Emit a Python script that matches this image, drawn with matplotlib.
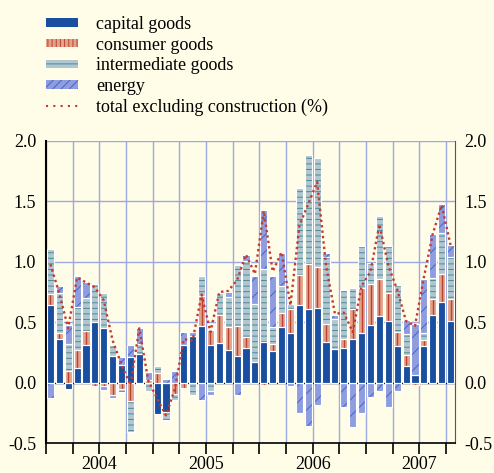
import matplotlib
matplotlib.use('Agg')
import matplotlib.pyplot as plt
from matplotlib.patches import Patch
from matplotlib.lines import Line2D
import numpy as np

plt.rcParams['font.family'] = ['Liberation Serif', 'DejaVu Serif']
plt.rcParams['font.size'] = 13
plt.rcParams['axes.unicode_minus'] = False
plt.rcParams['hatch.linewidth'] = 0.7

# monthly contributions, Jan 2004 - Oct 2007 (percentage points)
years = ['2004', '2005', '2006', '2007']
capital = [0.64, 0.36, -0.05, 0.12, 0.31, 0.50, 0.45, 0.22, 0.15, 0.21, 0.24, 0.00,
           -0.26, -0.24, 0.00, 0.31, 0.39, 0.47, 0.31, 0.33, 0.27, 0.22, 0.29, 0.17,
           0.34, 0.26, 0.46, 0.41, 0.64, 0.61, 0.62, 0.34, 0.28, 0.29, 0.36, 0.41,
           0.48, 0.55, 0.51, 0.30, 0.14, 0.06, 0.30, 0.56, 0.67, 0.51]
consumer = [0.09, 0.05, 0.10, 0.15, 0.12, -0.03, -0.03, -0.10, -0.05, -0.15, -0.01, 0.02,
            0.08, 0.00, -0.09, -0.04, 0.00, 0.25, 0.13, 0.23, 0.19, 0.25, 0.09, 0.00,
            -0.02, 0.06, 0.12, 0.20, 0.25, 0.37, 0.34, 0.15, 0.00, 0.07, 0.25, 0.37,
            0.34, 0.31, 0.23, 0.12, 0.09, -0.02, 0.05, 0.13, 0.23, 0.18]
intermediate = [0.38, 0.33, 0.22, 0.36, 0.27, 0.32, 0.29, 0.09, -0.03, -0.26, 0.08, -0.07,
                0.06, -0.07, -0.05, 0.00, -0.10, 0.16, -0.07, 0.18, 0.25, 0.50, 0.63, 0.48,
                0.60, 0.14, 0.22, 0.04, 0.72, 0.90, 0.90, 0.55, 0.25, 0.41, 0.17, 0.35,
                0.17, 0.52, 0.39, 0.39, 0.17, 0.00, 0.06, 0.18, 0.34, 0.35]
energy = [-0.13, 0.06, 0.16, 0.25, 0.13, 0.00, -0.03, -0.03, 0.06, 0.10, 0.13, 0.07,
          0.00, 0.03, 0.10, 0.11, 0.03, -0.14, -0.03, 0.00, 0.04, -0.10, 0.05, 0.23,
          0.49, 0.42, 0.27, -0.03, -0.25, -0.36, -0.18, 0.03, 0.03, -0.20, -0.37, -0.25,
          -0.12, -0.07, -0.20, -0.07, 0.12, 0.43, 0.45, 0.36, 0.24, 0.10]
total = [0.98, 0.74, 0.45, 0.87, 0.83, 0.79, 0.68, 0.35, 0.15, -0.02, 0.45, 0.02,
         -0.13, -0.27, -0.05, 0.36, 0.35, 0.73, 0.42, 0.75, 0.76, 0.85, 1.06, 0.90,
         1.42, 0.92, 1.08, 0.64, 1.30, 1.48, 1.66, 0.97, 0.57, 0.58, 0.42, 0.80,
         0.92, 1.31, 0.97, 0.77, 0.51, 0.47, 0.87, 1.23, 1.47, 1.14]
y_ticks = [-0.5, 0.0, 0.5, 1.0, 1.5, 2.0]
y_labels = ['-0.5', '0.0', '0.5', '1.0', '1.5', '2.0']
labels = ['capital goods', 'consumer goods', 'intermediate goods', 'energy',
          'total excluding construction (%)']

bg = '#fffde8'
grid_c = '#9ba8e2'
blue = '#1a4f9f'
salmon, red = '#e2a28c', '#b8432f'
grey, teal = '#b1c7cf', '#4e8898'
lilac, navy = '#8e9de0', '#4864c4'
line_red = '#c23b2e'

fig = plt.figure(figsize=(4.94, 4.73), dpi=100, facecolor=bg)
ax = fig.add_axes([0.093, 0.063, 0.828, 0.639], facecolor=bg)

x = np.arange(len(capital))
w = 0.8
pos = np.zeros(len(x))
neg = np.zeros(len(x))
series = [(capital, blue, blue, None),
          (consumer, salmon, red, None),
          (intermediate, grey, teal, '---'),
          (energy, lilac, navy, '//')]
for vals, fc, hc, hatch in series:
    v = np.array(vals)
    base = np.where(v >= 0, pos, neg)
    ax.bar(x, v, w, bottom=base, color=fc, edgecolor=hc, hatch=hatch, linewidth=0, zorder=2)
    if fc == salmon:
        # one red stripe down the middle of each consumer block
        ax.vlines(x, base, base + v, color=hc, lw=1.0, zorder=2.5)
    ax.bar(x, v, w, bottom=base, fill=False, edgecolor='white', linewidth=0.8, zorder=3)
    pos = pos + np.where(v > 0, v, 0)
    neg = neg + np.where(v < 0, v, 0)

ax.plot(x, total, color=line_red, lw=1.7, ls=(0, (1, 1.3)), zorder=4)
ax.axhline(0, color='black', lw=0.9, zorder=1.5)

ax.set_xlim(-0.5, len(x) - 0.5)
ax.set_ylim(-0.5, 2.0)
ax.set_yticks(y_ticks, labels=y_labels)
ax.xaxis.remove_overlapping_locs = False
ax.set_xticks(np.arange(-0.5, len(x) - 0.5, 3))
ax.set_xticks(np.arange(5.5, 12 * len(years), 12), labels=years, minor=True)
ax.tick_params(axis='x', which='major', length=8, width=1.2, direction='out', labelbottom=False)
ax.tick_params(axis='x', which='minor', length=0, pad=9)
ax.tick_params(axis='y', length=0, pad=7, labelright=True)

ax.set_axisbelow(True)
ax.grid(True, which='major', color=grid_c, lw=1.0)
ax.spines['top'].set_visible(False)
ax.spines['left'].set_linewidth(1.5)
ax.spines['right'].set_color('#555555')
ax.spines['bottom'].set_linewidth(1.2)

handles = [Patch(facecolor=blue, edgecolor=blue, lw=0),
           Patch(facecolor=salmon, edgecolor=red, hatch='||||', lw=0),
           Patch(facecolor=grey, edgecolor=teal, hatch='---', lw=0),
           Patch(facecolor=lilac, edgecolor=navy, hatch='////', lw=0),
           Line2D([], [], color=line_red, lw=1.5, ls=(0, (1, 2.5)))]
fig.legend(handles, labels, loc='upper left', bbox_to_anchor=(0.093, 0.966),
           frameon=False, borderpad=0, borderaxespad=0, handlelength=1.8,
           handleheight=0.35, handletextpad=1.0, labelspacing=0.2)

fig.savefig('out.png', dpi=100, facecolor=bg)
